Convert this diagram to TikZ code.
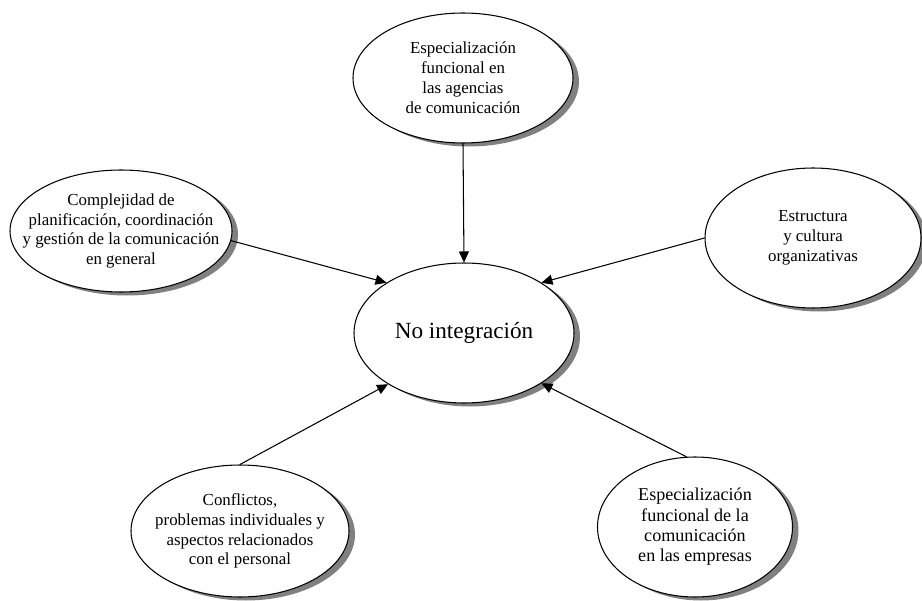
\documentclass[tikz,border=0pt]{standalone}
\usepackage{fontspec}
\setmainfont{Liberation Serif}
\usetikzlibrary{shapes.geometric,shadows,arrows.meta}

\begin{document}
\begin{tikzpicture}[
    factor/.style={ellipse, draw, line width=0.6pt, fill=white, inner ysep=0pt, inner xsep=-0.6cm, align=center,
        font=\fontsize{9.6}{11.3}\selectfont,
        drop shadow={shadow xshift=0.12cm, shadow yshift=-0.07cm, fill=black!50, opacity=1}},
    causa/.style={line width=0.6pt, -{Triangle[length=2.2mm,width=2mm]}}]
    \useasboundingbox (0,0) rectangle (18.44,12);
    \node[factor, minimum width=4.4cm, minimum height=2.8cm, font=\fontsize{13.2}{15}\selectfont] (nointeg) at (9.28,5.34) {No integración};
    \node[factor, minimum width=4.4cm, minimum height=2.6cm] (agencias) at (9.26,10.44) {Especialización\\funcional en\\las agencias\\de comunicación};
    \node[factor, minimum width=4.44cm, minimum height=2.44cm] (complej) at (2.42,7.38) {Complejidad de\\planificación, coordinación\\y gestión de la comunicación\\en general};
    \node[factor, minimum width=4.32cm, minimum height=2.8cm] (estruct) at (16.26,7.24) {Estructura\\y cultura\\organizativas};
    \node[factor, minimum width=4.36cm, minimum height=2.64cm] (conflict) at (4.8,1.38) {Conflictos,\\problemas individuales y\\aspectos relacionados\\con el personal};
    \node[factor, minimum width=3.9cm, minimum height=2.8cm, font=\fontsize{10.3}{11.6}\selectfont] (empresas) at (13.9,1.46) {Especialización\\funcional de la\\comunicación\\en las empresas};
    \draw[causa] (agencias.south) -- (nointeg.north);
    \draw[causa] (complej.-5) -- (nointeg.147);
    \draw[causa] (estruct.west) -- (nointeg.33);
    \draw[causa] (conflict.north) -- (nointeg.214);
    \draw[causa] (empresas.97) -- (nointeg.-33);
\end{tikzpicture}
\end{document}
